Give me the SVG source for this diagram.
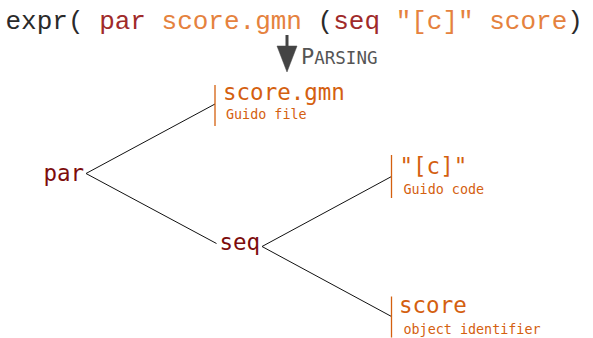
<svg xmlns="http://www.w3.org/2000/svg" width="593" height="338" viewBox="0 0 593 338">
<style>
.expr{font-family:"Courier New","Nimbus Mono PS","FreeMono","Liberation Mono",monospace;font-size:26px;fill:#2a2a2a}
.ek{fill:#a02a2a}
.ev{fill:#e5823e}
.mono{font-family:"DejaVu Sans Mono",monospace}
.op{font-size:22.5px;fill:#7d0c0c}
.leaf{font-size:22.5px;fill:#d4600f}
.sub{font-size:13.4px;fill:#d4600f}
.bar{stroke:#d4600f;stroke-width:1.3}
.edge{stroke:#111;stroke-width:1;fill:none}
.parse{fill:#555}
.arrow{fill:#444;stroke:#444}
</style>
<g id="expression">
<text class="expr" x="5.5" y="28.5" xml:space="preserve">expr( <tspan class="ek">par</tspan> <tspan class="ev">score.gmn</tspan> (<tspan class="ek">seq</tspan> <tspan class="ev">"[c]"</tspan> <tspan class="ev">score</tspan>)</text>
</g>
<g id="parsing-step">
<line class="arrow" x1="287" y1="35" x2="287" y2="50" stroke-width="3"/>
<path class="arrow" d="M277,46 L297,46 L287,72 Z" stroke-width="0.5"/>
<text class="mono parse" x="301" y="63.5"><tspan font-size="22">P</tspan><tspan font-size="17.5">ARSING</tspan></text>
</g>
<g id="connectors">
<line class="edge" x1="86" y1="173.5" x2="215" y2="104"/>
<line class="edge" x1="86" y1="173.5" x2="216.5" y2="243.5"/>
<line class="edge" x1="262" y1="246.5" x2="391.5" y2="176.5"/>
<line class="edge" x1="262" y1="246.5" x2="391.5" y2="316.5"/>
</g>
<g id="node-par">
<text class="mono op" x="43.5" y="181">par</text>
</g>
<g id="node-seq">
<text class="mono op" x="219.5" y="250">seq</text>
</g>
<g id="node-score-gmn">
<line class="bar" x1="215" y1="85" x2="215" y2="126"/>
<text class="mono leaf" x="223" y="100">score.gmn</text>
<text class="mono sub" x="226" y="119">Guido file</text>
</g>
<g id="node-c">
<line class="bar" x1="391.5" y1="155" x2="391.5" y2="198"/>
<text class="mono leaf" x="399.5" y="173.5">"[c]"</text>
<text class="mono sub" x="403.5" y="194">Guido code</text>
</g>
<g id="node-score">
<line class="bar" x1="391.5" y1="296.5" x2="391.5" y2="337.5"/>
<text class="mono leaf" x="399" y="313">score</text>
<text class="mono sub" x="403.5" y="334">object identifier</text>
</g>
</svg>
